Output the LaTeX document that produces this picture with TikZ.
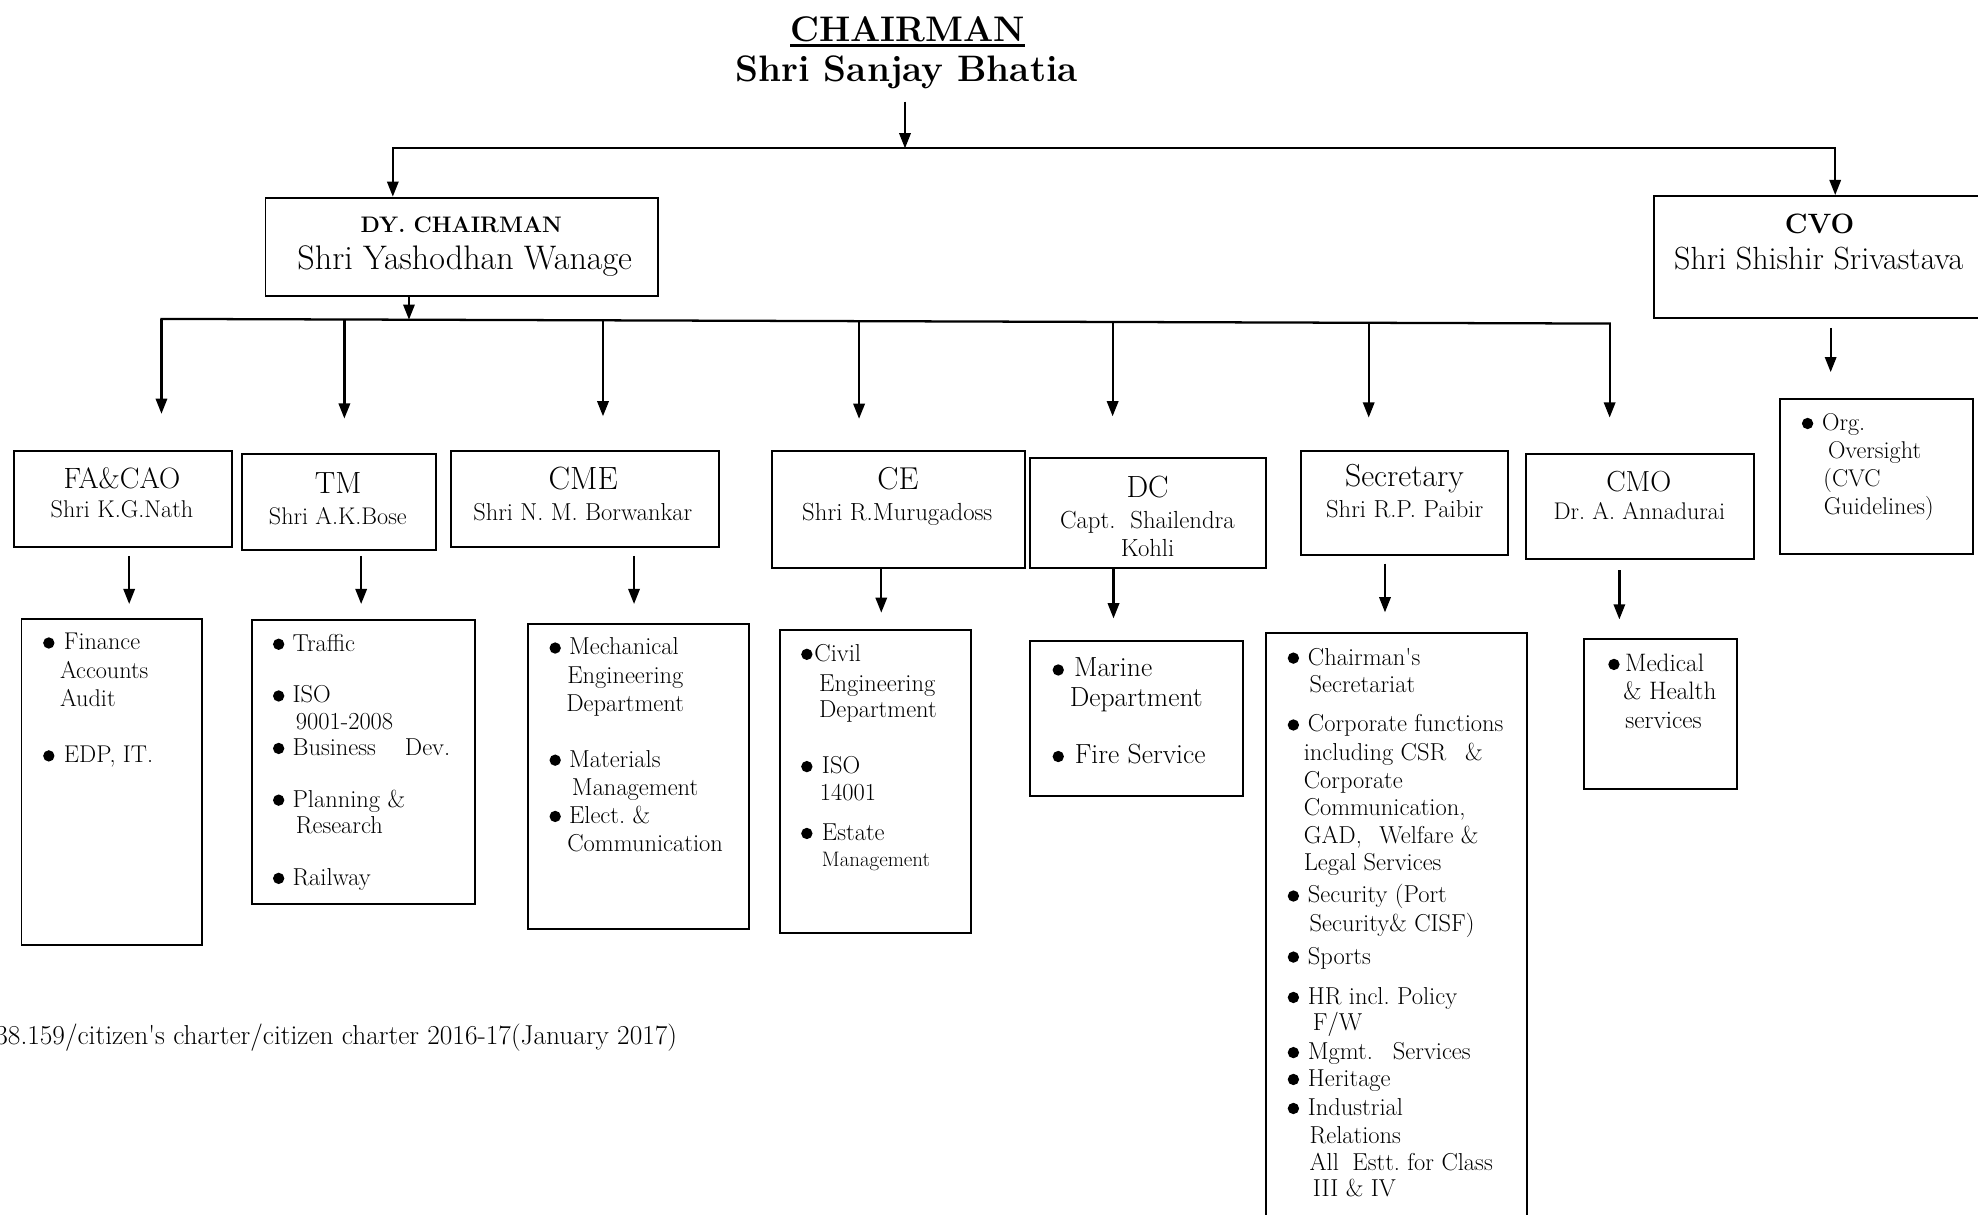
\documentclass[tikz,border=0pt]{standalone}
\usetikzlibrary{arrows.meta}
\newcommand\fs[2]{\fontsize{#1}{#2}\selectfont}
\newcommand\fl{\rule{0pt}{16pt}}
\newcommand\bul{\tikz[baseline={(0pt,-5.5pt)}]\fill (0pt,0pt) circle[radius=4.5pt];}
\newcommand\apos{\textquotesingle}
\tikzset{
  box/.style={draw, line width=1.5pt, inner sep=0pt, anchor=north west},
  arr/.style={line width=1.8pt, -{Triangle[length=12pt,width=9pt]}},
  ln/.style={line width=1.8pt, line cap=rect},
  lbl/.style={anchor=base, inner sep=0pt},
  lst/.style={anchor=north west, inner sep=0pt, align=left},
}
\begin{document}
\begin{tikzpicture}[x=1pt,y=-1pt]
\useasboundingbox (0,0) rectangle (1568,963);
\fill[white] (0,0) rectangle (1568,963);
\clip (0,0) rectangle (1568,963);

% ---------- boxes ----------
\node[box, minimum width=311.3pt, minimum height=78pt] (dy) at (209.7,155.9) {};
\node[box, minimum width=290pt, minimum height=96.4pt] (cvo) at (1310.5,154.6) {};
\node[box, minimum width=173pt, minimum height=76.1pt] (fa) at (10.2,356.7) {};
\node[box, minimum width=154.3pt, minimum height=76.7pt] (tm) at (190.8,358.8) {};
\node[box, minimum width=212.4pt, minimum height=76.5pt] (cme) at (356.5,356.7) {};
\node[box, minimum width=200.3pt, minimum height=92.5pt] (ce) at (611.2,356.7) {};
\node[box, minimum width=186.5pt, minimum height=86.7pt] (dc) at (816,362.5) {};
\node[box, minimum width=164pt, minimum height=82.5pt] (sec) at (1030.8,356.7) {};
\node[box, minimum width=181.1pt, minimum height=83.8pt] (cmo) at (1208.6,358.8) {};
\node[box, minimum width=153.2pt, minimum height=122.8pt] (cvol) at (1410,315.8) {};
\node[box, minimum width=143.4pt, minimum height=259pt] (fal) at (16.3,489.6) {};
\node[box, minimum width=176.4pt, minimum height=225pt] (tml) at (199.1,491) {};
\node[box, minimum width=174.8pt, minimum height=241.8pt] (cmel) at (418,493.6) {};
\node[box, minimum width=151.7pt, minimum height=239.6pt] (cel) at (617.3,498.9) {};
\node[box, minimum width=169pt, minimum height=122.9pt] (dcl) at (815.4,507.3) {};
\node[box, minimum width=206.9pt, minimum height=490pt] (secl) at (1002.5,500.7) {};
\node[box, minimum width=121.2pt, minimum height=119.4pt] (cmol) at (1255.1,505.5) {};

% ---------- titles ----------
\node[lbl, font=\bfseries\fs{28.2}{30}] (chairt) at (719.6,33) {CHAIRMAN};
\draw[line width=2pt] ([yshift=-3pt]chairt.base west) -- ([yshift=-3pt]chairt.base east);
\node[lbl, font=\bfseries\fs{29.2}{31}] (chairn) at (718.8,65) {Shri Sanjay Bhatia};

\node[lbl, font=\bfseries\fs{17.8}{20}] (dyt) at (365.6,184) {DY. CHAIRMAN};
\node[lbl, font=\fs{27}{29}] (dyn) at (368.4,213.5) {Shri Yashodhan Wanage};
\node[lbl, font=\bfseries\fs{22.2}{24}] (cvot) at (1442.3,185) {CVO};
\node[lbl, font=\fs{25.4}{27}] (cvon) at (1441.7,214) {Shri Shishir Srivastava};

\node[lbl, font=\fs{23.3}{25}] (fat) at (96.7,387) {FA\&CAO};
\node[lbl, font=\fs{19.2}{21}] (fan) at (96.7,410) {Shri K.G.Nath};
\node[lbl, font=\fs{24.3}{26}] (tmt) at (268,391) {TM};
\node[lbl, font=\fs{19.1}{21}] (tmn) at (267.8,415.6) {Shri A.K.Bose};
\node[lbl, font=\fs{25.5}{27}] (cmet) at (462.3,388) {CME};
\node[lbl, font=\fs{19.4}{21}] (cmen) at (462,413) {Shri N. M. Borwankar};
\node[lbl, font=\fs{25.1}{27}] (cet) at (711.8,388) {CE};
\node[lbl, font=\fs{19.6}{21}] (cen) at (711.3,413) {Shri R.Murugadoss};
\node[lbl, font=\fs{24.3}{26}] (dct) at (909.7,394) {DC};
\node[lbl, font=\fs{19.6}{21}] (dcn) at (909.6,419) {Capt.\ \ Shailendra};
\node[lbl, font=\fs{19.6}{21}] (dcn2) at (909.7,441) {Kohli};
\node[lbl, font=\fs{25.2}{27}] (sect) at (1113.3,386) {Secretary};
\node[lbl, font=\fs{19.5}{21}] (secn) at (1113.5,410) {Shri R.P. Paibir};
\node[lbl, font=\fs{23}{25}] (cmot) at (1299.1,390) {CMO};
\node[lbl, font=\fs{19.1}{21}] (cmon) at (1299.5,412) {Dr.\ A. Annadurai};

% ---------- lists ----------
\node[lst, font=\fs{19.2}{22.5}] (falt) at (34,499) {\fl\bul\hspace{7.5pt}Finance\\
\hspace*{13.4pt}Accounts\\
\hspace*{13.4pt}Audit\\[22pt]
\bul\hspace{7.5pt}EDP, IT.};

\node[lst, font=\fs{19.4}{20.8}] (tmlt) at (216.2,500) {\fl\bul\hspace{6.5pt}Traffic\\[20.2pt]
\bul\hspace{6.5pt}ISO\\
\hspace*{18.2pt}9001-2008\\
\bul\hspace{6.5pt}Business\hspace{23pt}Dev.\\[20.2pt]
\bul\hspace{6.5pt}Planning \&\\
\hspace*{18.2pt}Research\\[20.4pt]
\bul\hspace{6.5pt}Railway};

\node[lst, font=\fs{19.4}{22.3}] (cmelt) at (435.4,503) {\fl\bul\hspace{6.5pt}Mechanical\\
\hspace*{14.1pt}Engineering\\
\hspace*{13.3pt}Department\\[22pt]
\bul\hspace{6.5pt}Materials\\
\hspace*{17.8pt}Management\\
\bul\hspace{6.5pt}Elect.\ \&\\
\hspace*{14.1pt}Communication};

\node[lst, font=\fs{19.4}{21.3}] (celt) at (634.9,508) {\fl\bul\hspace{1.5pt}Civil\\[2.7pt]
\hspace*{14.3pt}Engineering\\[-0.7pt]
\hspace*{14.2pt}Department\\[23.1pt]
\bul\hspace{7.5pt}ISO\\[0.4pt]
\hspace*{14.9pt}14001\\[10pt]
\bul\hspace{7.5pt}Estate\\[-0.3pt]
\hspace*{16.5pt}{\fs{16.6}{21.3}Management}};

\node[lst, font=\fs{21.9}{23.6}] (dclt) at (834.2,520.4) {\fl\bul\hspace{8pt}Marine\\
\hspace*{13.7pt}Department\\[21.4pt]
\bul\hspace{8.6pt}Fire Service};

\node[lst, font=\fs{19.4}{22}] (seclt) at (1020.6,511) {\fl\bul\hspace{7pt}Chairman\apos s\\
\hspace*{17.4pt}Secretariat\\[9pt]
\bul\hspace{7pt}Corporate functions\\[0.5pt]
\hspace*{12.7pt}including CSR\hspace{15pt}\&\\[0.5pt]
\hspace*{12.7pt}Corporate\\[-1pt]
\hspace*{12.7pt}Communication,\\[0.5pt]
\hspace*{12.7pt}GAD,\hspace{13.9pt}Welfare \&\\[-0.5pt]
\hspace*{12.7pt}Legal Services\\[3.6pt]
\bul\hspace{7pt}Security (Port\\[0.9pt]
\hspace*{17.4pt}Security\& CISF)\\[3.5pt]
\bul\hspace{7pt}Sports\\[10pt]
\bul\hspace{7pt}HR incl.\ Policy\\[-1.5pt]
\hspace*{20pt}F/W\\[1.2pt]
\bul\hspace{7pt}Mgmt.\hspace{15.8pt}Services\\[-0.7pt]
\bul\hspace{7pt}Heritage\\[1pt]
\bul\hspace{7pt}Industrial\\
\hspace*{17.4pt}Relations\\[-0.5pt]
\hspace*{17.4pt}All\hspace{10.8pt}Estt.\ for Class\\[-0.9pt]
\hspace*{20pt}III\hspace{6pt}\& IV};

\node[lst, font=\fs{19.2}{22.3}] (cvolt) at (1428.2,325) {\fl\bul\hspace{7pt}Org.\\
\hspace*{20.7pt}Oversight\\
\hspace*{17.1pt}(CVC\\
\hspace*{17.4pt}Guidelines)};

\node[lst, font=\fs{20}{22.5}] (cmolt) at (1274.7,516) {\fl\bul\hspace{4.3pt}Medical\\
\hspace*{11.9pt}\& Health\\
\hspace*{13.5pt}services};

\node[anchor=base east, inner sep=0pt, font=\fs{21.7}{24}] (foot) at (537,827.6) {38.159/citizen\apos s charter/citizen charter 2016-17(January 2017)};

% ---------- connectors ----------
\coordinate (top) at (717.4,117.6);
\coordinate (tl) at (311.4,117.6);
\coordinate (tr) at (1454.8,117.6);
\draw[arr, shorten <=9.5pt] (top |- chairn.south) -- (top);
\draw[ln] (tl) -- (tr);
\draw[arr] (tl) -- (tl |- dy.north);
\draw[arr] (tr) -- (tr |- cvo.north);

\coordinate (bl) at (128,252.8);
\coordinate (br) at (1276,256.5);
\coordinate (b2) at (273,253.3);
\coordinate (b3) at (478,253.9);
\coordinate (b4) at (681,254.6);
\coordinate (b5) at (882,255.2);
\coordinate (b6) at (1085,255.9);
\coordinate (dyb) at (324.2,253.4);
\draw[arr] (dyb |- dy.south) -- (dyb);
\draw[ln] (bl) -- (br);
\draw[arr, shorten >=28.7pt] (bl) -- (bl |- fa.north);
\draw[arr, shorten >=27pt] (b2) -- (b2 |- tm.north);
\draw[arr, shorten >=26.7pt] (b3) -- (b3 |- cme.north);
\draw[arr, shorten >=24.7pt] (b4) -- (b4 |- ce.north);
\draw[arr, shorten >=32.5pt] (b5) -- (b5 |- dc.north);
\draw[arr, shorten >=25.7pt] (b6) -- (b6 |- sec.north);
\draw[arr, shorten >=27.8pt] (br) -- (br |- cmo.north);

\coordinate (xcvo) at (1451.2,0);
\draw[arr, shorten <=7.4pt, shorten >=20.8pt] (xcvo |- cvo.south) -- (xcvo |- cvol.north);

\coordinate (x1) at (102.4,0);
\coordinate (x2) at (286.3,0);
\coordinate (x3) at (502.6,0);
\coordinate (x4) at (698.6,0);
\coordinate (x5) at (882.7,0);
\coordinate (x6) at (1097.9,0);
\coordinate (x7) at (1283.7,0);
\draw[arr, shorten <=6.4pt, shorten >=10.8pt] (x1 |- fa.south) -- (x1 |- fal.north);
\draw[arr, shorten <=3.7pt, shorten >=12.2pt] (x2 |- tm.south) -- (x2 |- tml.north);
\draw[arr, shorten <=6pt, shorten >=14.8pt] (x3 |- cme.south) -- (x3 |- cmel.north);
\draw[arr, shorten >=13.2pt] (x4 |- ce.south) -- (x4 |- cel.north);
\draw[arr, shorten <=0.5pt, shorten >=17.1pt] (x5 |- dc.south) -- (x5 |- dcl.north);
\draw[arr, shorten <=6pt, shorten >=15.3pt] (x6 |- sec.south) -- (x6 |- secl.north);
\draw[arr, shorten <=7.9pt, shorten >=14.5pt] (x7 |- cmo.south) -- (x7 |- cmol.north);
\end{tikzpicture}
\end{document}
